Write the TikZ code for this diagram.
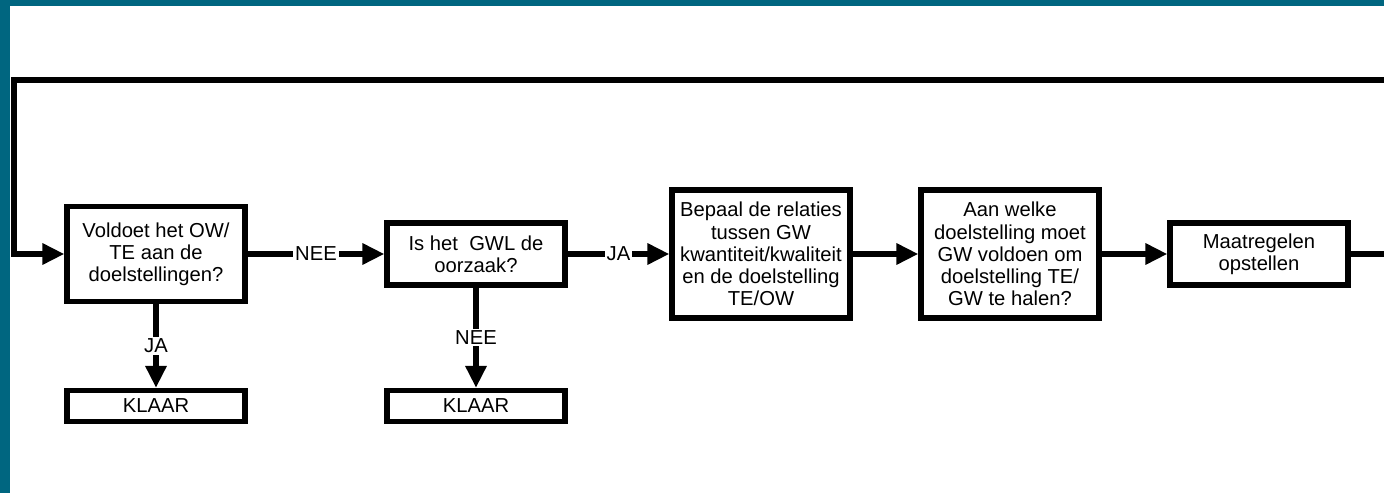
\documentclass[tikz,border=0pt]{standalone}
\usepackage{fontspec}
\setmainfont{Liberation Sans}
\usetikzlibrary{arrows.meta,positioning,calc}
\definecolor{balk}{RGB}{0,102,128}

\begin{document}
\begin{tikzpicture}[x=0.02cm,y=-0.02cm, >={Triangle[length=12.5pt,width=11.5pt]},
        every node/.style={font=\fontsize{11.5}{12.6}\selectfont},
        vraag/.style={rectangle,draw=black,line width=3pt,align=center,minimum width=3.56cm,inner sep=2pt},
        stap/.style={rectangle,draw=black,line width=3pt,align=center,minimum width=3.56cm,minimum height=2.56cm,inner sep=2pt},
        klaar/.style={rectangle,draw=black,line width=3pt,minimum width=3.56cm,minimum height=0.62cm,inner sep=1pt},
        pijl/.style={draw=black,line width=3.1pt,->},
        lbl/.style={fill=white,inner sep=1pt}]
        \useasboundingbox (0,0) rectangle (1384,493);
        \clip (0,0) rectangle (1384,493);
        \fill[balk] (0,0) rectangle (1384,6);
        \fill[balk] (0,0) rectangle (10,493);
        \node[vraag,minimum height=1.9cm] at (156,254) (v1) {Voldoet het OW/\\TE aan de\\doelstellingen?};
        \node[vraag,minimum height=1.24cm] at (476,254) (v2) {Is het\ \ GWL de\\oorzaak?};
        \node[stap] at (761,254) (relaties) {Bepaal de relaties\\tussen GW\\kwantiteit/kwaliteit\\en de doelstelling\\TE/OW};
        \node[stap] at (1010,254) (doel) {Aan welke\\doelstelling moet\\GW voldoen om\\doelstelling TE/\\GW te halen?};
        \node[stap,minimum height=1.24cm] at (1259,254) (maatregel) {Maatregelen\\opstellen};
        \node[klaar] at (156,406) (k1) {KLAAR};
        \node[klaar] at (476,406) (k2) {KLAAR};
        \coordinate (terug) at (1420,80);
        \coordinate (hoek) at (14,80);
        \draw[pijl] (v1) -- node[lbl] {NEE} (v2);
        \draw[pijl] (v2) -- node[lbl] {JA} (relaties);
        \draw[pijl] (relaties) -- (doel);
        \draw[pijl] (doel) -- (maatregel);
        \draw[pijl] (v1) -- node[lbl] {JA} (k1);
        \draw[pijl] (v2) -- node[lbl] {NEE} (k2);
        % terugkoppeling naar het begin
        \draw[pijl] (maatregel.east) -- (maatregel.east -| terug) -- (terug) -- (hoek) |- (v1.west);
      \end{tikzpicture}
\end{document}
